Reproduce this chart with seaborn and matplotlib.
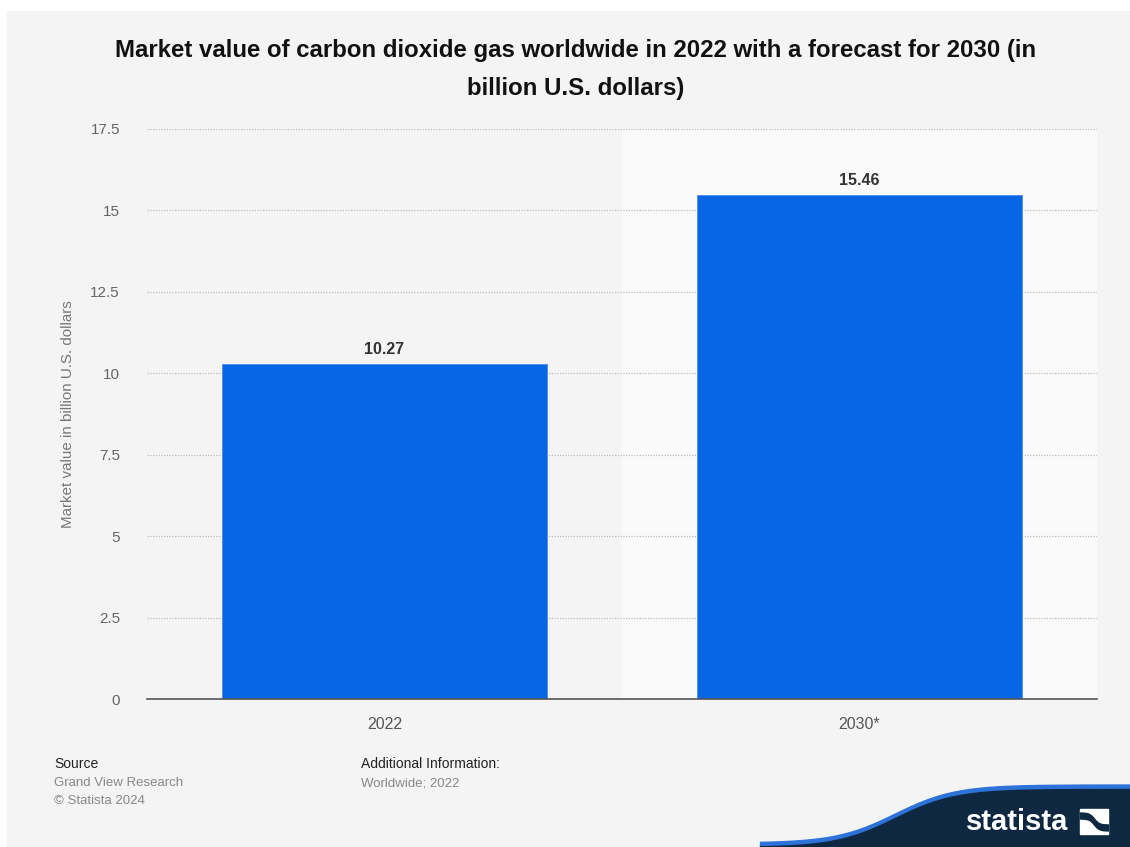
import numpy as np
import pandas as pd
import matplotlib
matplotlib.use('Agg')
from matplotlib import pyplot as plt
import seaborn as sns

# data
years = ['2022', '2030*']
values = [10.27, 15.46]
y_ticks = [0, 2.5, 5, 7.5, 10, 12.5, 15, 17.5]
y_tick_labels = ['0', '2.5', '5', '7.5', '10', '12.5', '15', '17.5']

df = pd.DataFrame({'year': years, 'value': values})

sns.set_theme(style='white')
plt.rcParams['font.family'] = ['Liberation Sans', 'DejaVu Sans']

W, H = 1130, 847
fig = plt.figure(figsize=(W / 100, H / 100), dpi=100, facecolor='white')

# background panel + statista logo on a full-figure axes
bg = fig.add_axes([0, 0, 1, 1])
bg.set_xlim(0, W)
bg.set_ylim(H, 0)
bg.axis('off')
bg.add_patch(plt.Rectangle((7, 11), W - 7, H - 11, color='#f4f4f4', zorder=0))
xs = np.linspace(760, W, 300)
curve = 847 - 58 / (1 + np.exp(-(xs - 895) / 30))
bg.fill_between(xs, curve - 4.5, H, color='#2c72d9', zorder=1)
bg.fill_between(xs, curve, H, color='#0d2840', zorder=2)
bg.text(1017, 822, 'statista', color='white', fontsize=21, fontweight='bold',
        ha='center', va='center', zorder=3)
bg.add_patch(plt.Rectangle((1080, 809), 28, 25, color='white', zorder=3))
sx = np.linspace(1080, 1108, 50)
sy = 821.5 + 6 * np.tanh((sx - 1094) / 5)
bg.fill_between(sx, sy - 3, sy + 3, color='#0d2840', zorder=4)

# main plot
ax = fig.add_axes([147 / W, 1 - 699 / H, 950 / W, 570 / H])
ax.set_facecolor('#f4f4f4')
ax.axvspan(0.5, 1.5, color='#fafafa', zorder=0)
sns.barplot(data=df, x='year', y='value', color='#0766e3', width=0.686,
            edgecolor='#4a8cee', linewidth=0.6, ax=ax, zorder=3, saturation=1)
ax.set_xlim(-0.5, 1.5)
ax.set_ylim(0, 17.5)
ax.set_yticks(y_ticks)
ax.set_yticklabels(y_tick_labels)
ax.yaxis.grid(True, linestyle=(0, (1, 1.2)), color='#bdbdbd', linewidth=0.9, zorder=1)
ax.set_axisbelow(True)
for s in ['top', 'right', 'left']:
    ax.spines[s].set_visible(False)
ax.spines['bottom'].set_color('#555555')
ax.spines['bottom'].set_linewidth(1.2)
ax.spines['bottom'].set_zorder(5)
ax.tick_params(axis='y', length=0, pad=19.5, labelsize=11, labelcolor='#666666')
ax.tick_params(axis='x', length=0, pad=13, labelsize=11.5, labelcolor='#555555')
ax.set_xlabel('')
ax.set_ylabel('Market value in billion U.S. dollars', fontsize=10.9, color='#777777', labelpad=0)
ax.yaxis.set_label_coords(-72 / 950, 0.5)

for i, v in enumerate(values):
    ax.text(i, v + 0.22, f'{v:.2f}', ha='center', va='bottom', fontsize=11.5,
            fontweight='bold', color='#333333', zorder=6)

fig.text(576 / W, 1 - 51 / H,
         'Market value of carbon dioxide gas worldwide in 2022 with a forecast for 2030 (in',
         ha='center', va='center', fontsize=17.3, fontweight='bold', color='#111111')
fig.text(576 / W, 1 - 88 / H, 'billion U.S. dollars)',
         ha='center', va='center', fontsize=17.3, fontweight='bold', color='#111111')

fig.text(54 / W, 1 - 764 / H, 'Source', fontsize=10, color='#222222', va='center')
fig.text(54 / W, 1 - 783 / H, 'Grand View Research', fontsize=9.5, color='#888888', va='center')
fig.text(54 / W, 1 - 801 / H, '\u00a9 Statista 2024', fontsize=9.5, color='#888888', va='center')
fig.text(361 / W, 1 - 764 / H, 'Additional Information:', fontsize=10, color='#222222', va='center')
fig.text(361 / W, 1 - 783 / H, 'Worldwide; 2022', fontsize=9.5, color='#888888', va='center')

plt.savefig('out.png', dpi=100, facecolor=fig.get_facecolor())
